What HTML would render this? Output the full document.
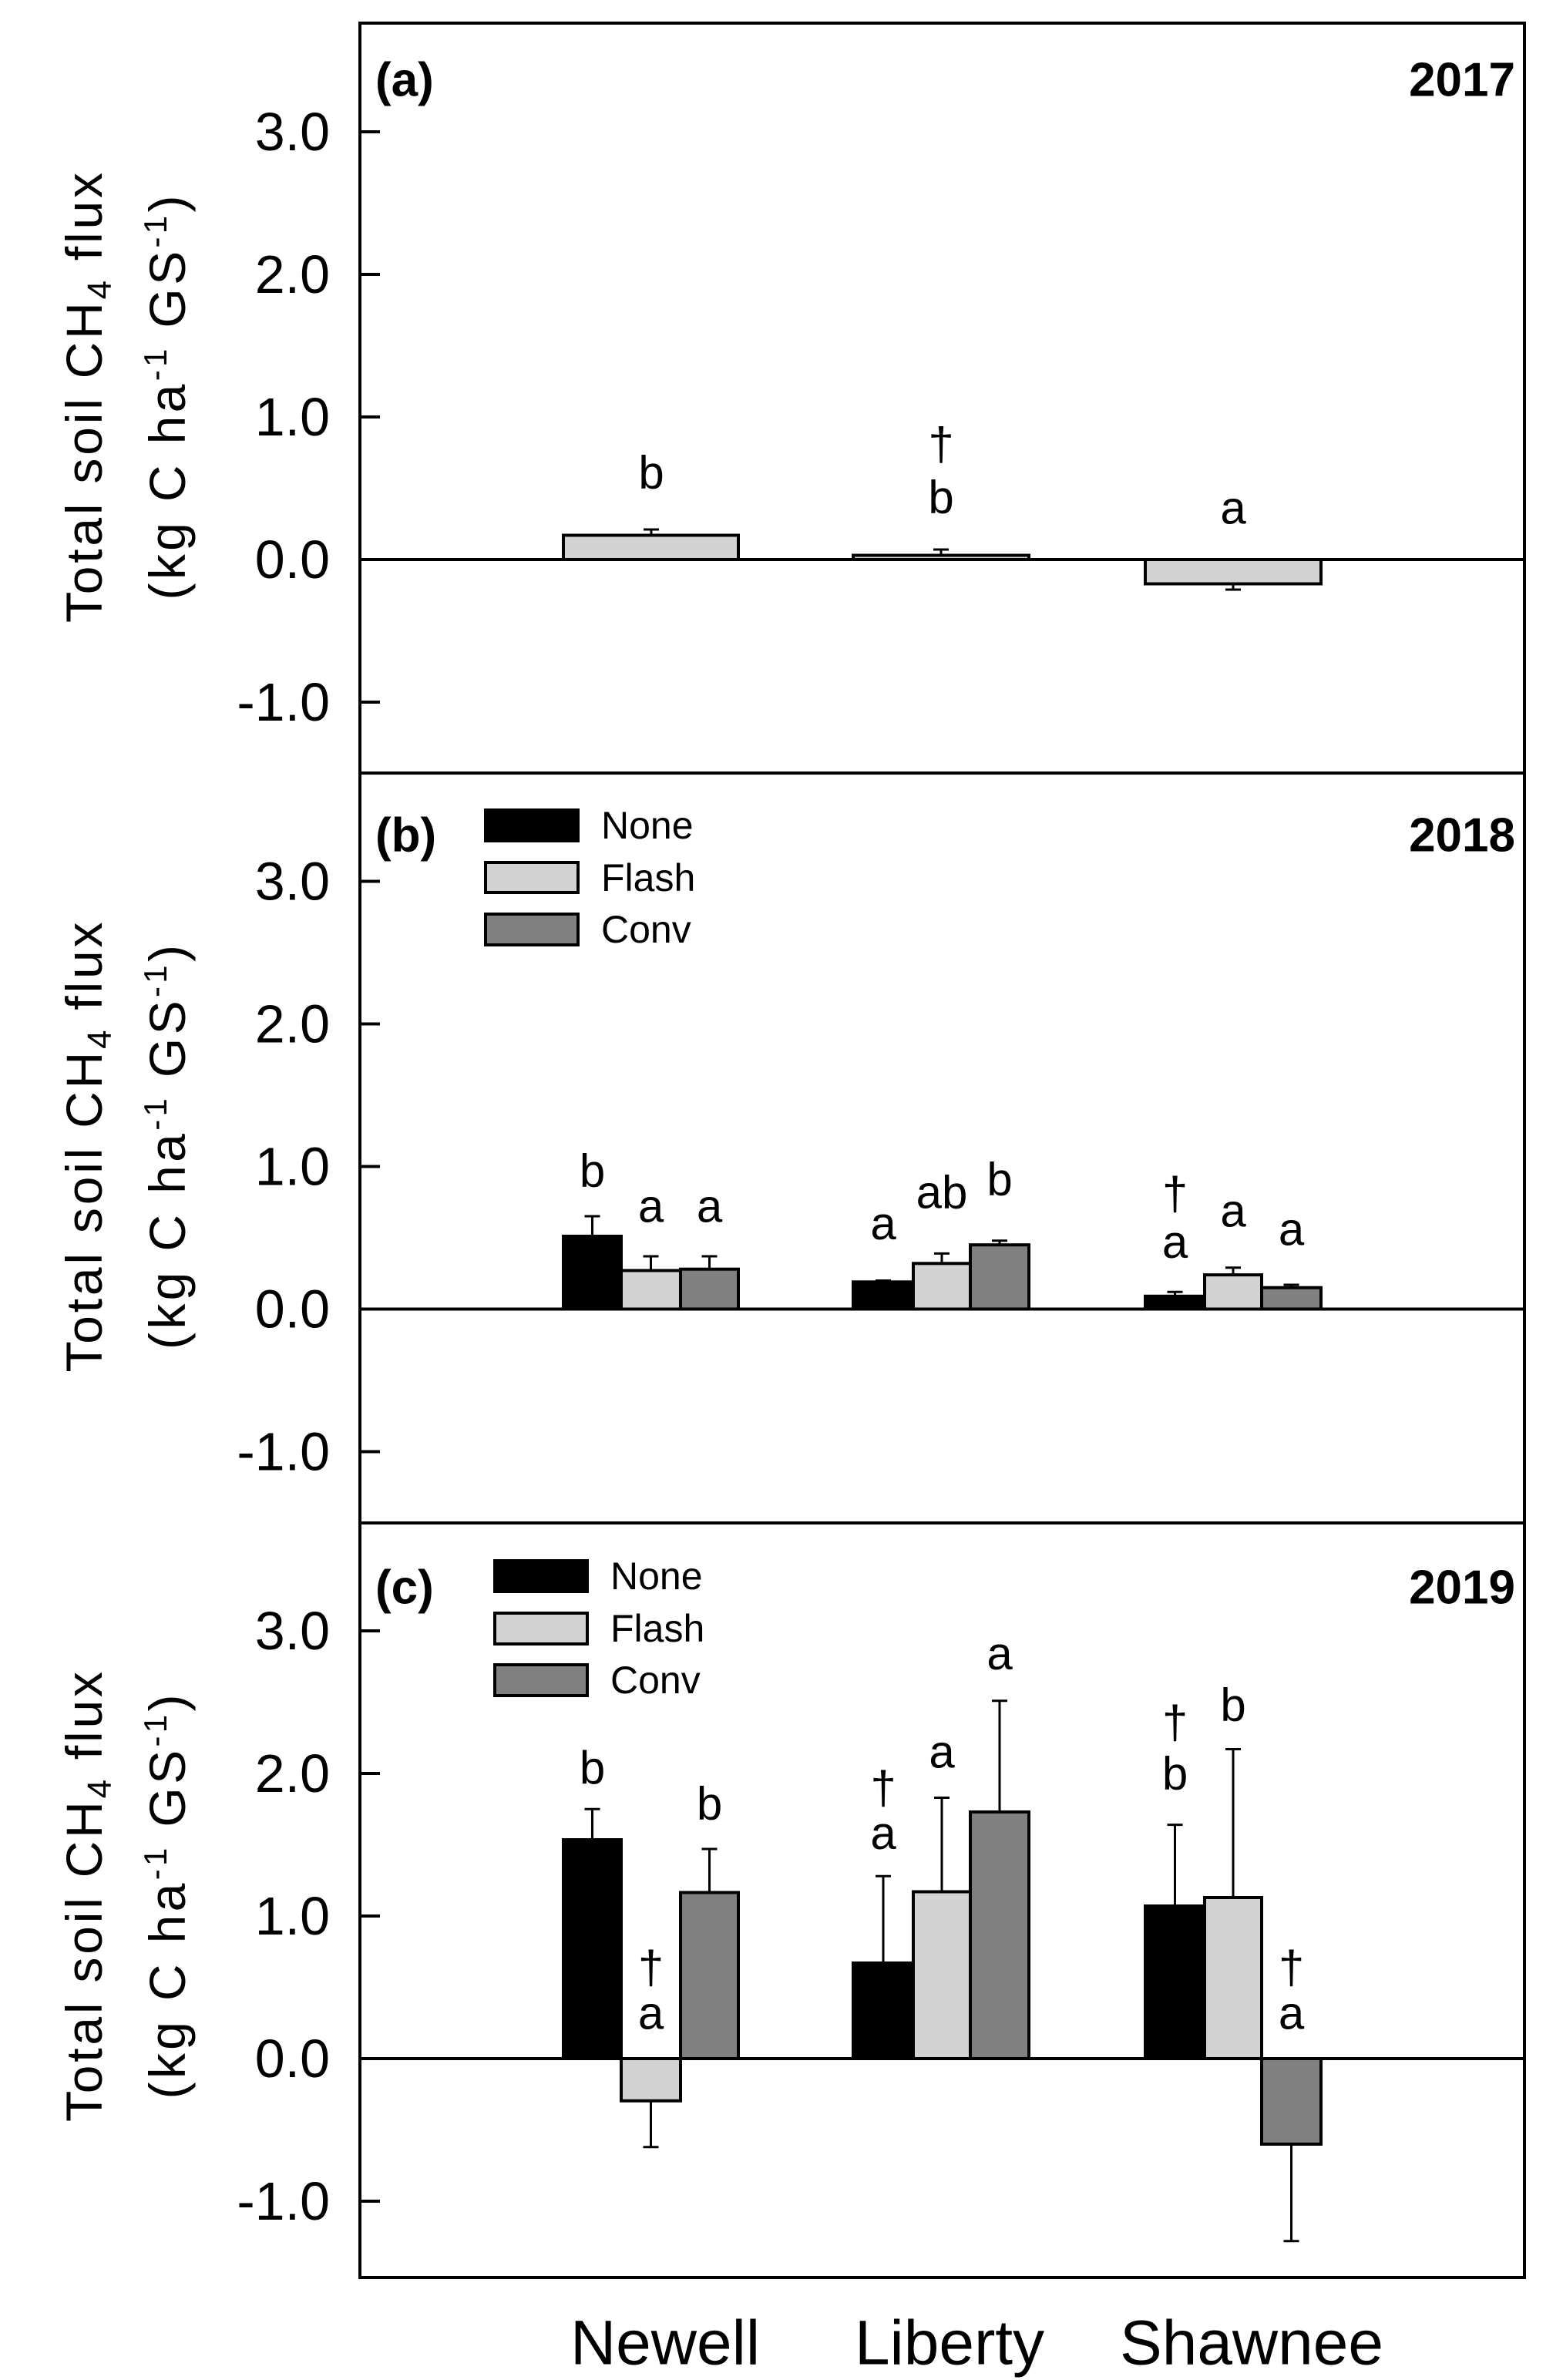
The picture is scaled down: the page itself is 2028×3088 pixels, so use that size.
<!DOCTYPE html>
<html><head><meta charset="utf-8"><style>html,body{margin:0;padding:0;background:#fff}svg{display:block}</style></head>
<body>
<svg xmlns="http://www.w3.org/2000/svg" width="2028" height="3088" viewBox="0 0 2028 3088" font-family="Liberation Sans, Arial, sans-serif">
<rect width="2028" height="3088" fill="#fff"/>
<g fill="none" stroke="#000" stroke-width="4">
<rect x="467" y="30" width="1511" height="2925"/>
<line x1="467" y1="1003" x2="1978" y2="1003"/>
<line x1="467" y1="1976" x2="1978" y2="1976"/>
<line x1="467" y1="726" x2="1978" y2="726"/>
<line x1="467" y1="1698.5" x2="1978" y2="1698.5"/>
<line x1="467" y1="2671" x2="1978" y2="2671"/>
</g>
<g stroke="#000" stroke-width="4">
<line x1="467" y1="171" x2="493" y2="171"/><line x1="467" y1="356" x2="493" y2="356"/><line x1="467" y1="541" x2="493" y2="541"/><line x1="467" y1="911" x2="493" y2="911"/>
<line x1="467" y1="1143.5" x2="493" y2="1143.5"/><line x1="467" y1="1328.5" x2="493" y2="1328.5"/><line x1="467" y1="1513.5" x2="493" y2="1513.5"/><line x1="467" y1="1883.5" x2="493" y2="1883.5"/>
<line x1="467" y1="2116" x2="493" y2="2116"/><line x1="467" y1="2301" x2="493" y2="2301"/><line x1="467" y1="2486" x2="493" y2="2486"/><line x1="467" y1="2856" x2="493" y2="2856"/>
</g>
<g font-size="70" text-anchor="end" dominant-baseline="central">
<text x="428" y="171">3.0</text><text x="428" y="356">2.0</text><text x="428" y="541">1.0</text><text x="428" y="726">0.0</text><text x="428" y="911">-1.0</text>
<text x="428" y="1143.5">3.0</text><text x="428" y="1328.5">2.0</text><text x="428" y="1513.5">1.0</text><text x="428" y="1698.5">0.0</text><text x="428" y="1883.5">-1.0</text>
<text x="428" y="2116">3.0</text><text x="428" y="2301">2.0</text><text x="428" y="2486">1.0</text><text x="428" y="2671">0.0</text><text x="428" y="2856">-1.0</text>
</g>
<g font-size="66" text-anchor="middle">
<text transform="translate(132,516) rotate(-90)" textLength="584" lengthAdjust="spacing">Total soil CH<tspan font-size="44" dy="12">4</tspan><tspan dy="-12"> flux</tspan></text>
<text transform="translate(240,516) rotate(-90)" textLength="525" lengthAdjust="spacing">(kg C ha<tspan font-size="42" dy="-24">-1</tspan><tspan dy="24"> GS</tspan><tspan font-size="42" dy="-24">-1</tspan><tspan dy="24">)</tspan></text>
<text transform="translate(132,1488.5) rotate(-90)" textLength="584" lengthAdjust="spacing">Total soil CH<tspan font-size="44" dy="12">4</tspan><tspan dy="-12"> flux</tspan></text>
<text transform="translate(240,1488.5) rotate(-90)" textLength="525" lengthAdjust="spacing">(kg C ha<tspan font-size="42" dy="-24">-1</tspan><tspan dy="24"> GS</tspan><tspan font-size="42" dy="-24">-1</tspan><tspan dy="24">)</tspan></text>
<text transform="translate(132,2461) rotate(-90)" textLength="584" lengthAdjust="spacing">Total soil CH<tspan font-size="44" dy="12">4</tspan><tspan dy="-12"> flux</tspan></text>
<text transform="translate(240,2461) rotate(-90)" textLength="525" lengthAdjust="spacing">(kg C ha<tspan font-size="42" dy="-24">-1</tspan><tspan dy="24"> GS</tspan><tspan font-size="42" dy="-24">-1</tspan><tspan dy="24">)</tspan></text>
</g>
<g font-size="62" font-weight="bold" dominant-baseline="central">
<text x="487" y="104">(a)</text><text x="1966" y="104" text-anchor="end">2017</text>
<text x="487" y="1084">(b)</text><text x="1966" y="1084" text-anchor="end">2018</text>
<text x="487" y="2060">(c)</text><text x="1966" y="2060" text-anchor="end">2019</text>
</g>
<g stroke="#000" stroke-width="4">
<rect x="630" y="1051" width="120" height="40" fill="#000"/>
<rect x="630" y="1119" width="120" height="39" fill="#d3d3d3"/>
<rect x="630" y="1186" width="120" height="40" fill="#808080"/>
<rect x="642" y="2025" width="120" height="40" fill="#000"/>
<rect x="642" y="2093" width="120" height="40" fill="#d3d3d3"/>
<rect x="642" y="2160" width="120" height="40" fill="#808080"/>
</g>
<g font-size="50" dominant-baseline="central">
<text x="780" y="1071">None</text><text x="780" y="1139">Flash</text><text x="780" y="1206">Conv</text>
<text x="792" y="2045">None</text><text x="792" y="2113">Flash</text><text x="792" y="2180">Conv</text>
</g>
<g stroke="#000" stroke-width="4">
<rect x="731" y="694.5" width="227" height="31.5" fill="#d3d3d3"/>
<rect x="1107" y="720.5" width="228" height="5.5" fill="#d3d3d3"/>
<rect x="1486" y="726" width="228" height="31.5" fill="#d3d3d3"/>
<rect x="731" y="1604" width="75" height="94.5" fill="#000"/>
<rect x="806" y="1648.5" width="77" height="50" fill="#d3d3d3"/>
<rect x="883" y="1646.7" width="75" height="51.8" fill="#808080"/>
<rect x="1107" y="1663.3" width="78" height="35.2" fill="#000"/>
<rect x="1185" y="1639.3" width="74" height="59.2" fill="#d3d3d3"/>
<rect x="1259" y="1615.2" width="76" height="83.3" fill="#808080"/>
<rect x="1486" y="1681.8" width="77" height="16.7" fill="#000"/>
<rect x="1563" y="1654.1" width="74" height="44.4" fill="#d3d3d3"/>
<rect x="1637" y="1670.7" width="77" height="27.8" fill="#808080"/>
<rect x="731" y="2387" width="75" height="284" fill="#000"/>
<rect x="806" y="2671" width="77" height="54.8" fill="#d3d3d3"/>
<rect x="883" y="2455.5" width="75" height="215.5" fill="#808080"/>
<rect x="1107" y="2547" width="78" height="124" fill="#000"/>
<rect x="1185" y="2454.5" width="74" height="216.5" fill="#d3d3d3"/>
<rect x="1259" y="2351" width="76" height="320" fill="#808080"/>
<rect x="1486" y="2473" width="77" height="198" fill="#000"/>
<rect x="1563" y="2462" width="74" height="209" fill="#d3d3d3"/>
<rect x="1637" y="2671" width="77" height="111" fill="#808080"/>
</g>
<g stroke="#000" stroke-width="3">
<path d="M845 694.5V687M835 687H855"/>
<path d="M1221 720.5V713M1211 713H1231"/>
<path d="M1600 757.5V765M1590 765H1610"/>
<path d="M768.5 1604V1578M758.5 1578H778.5"/>
<path d="M844.5 1648.5V1630M834.5 1630H854.5"/>
<path d="M920.5 1646.7V1630M910.5 1630H930.5"/>
<path d="M1146 1663.3V1661.5M1136 1661.5H1156"/>
<path d="M1222 1639.3V1626.4M1212 1626.4H1232"/>
<path d="M1297 1615.2V1609.7M1287 1609.7H1307"/>
<path d="M1524.5 1681.8V1676.3M1514.5 1676.3H1534.5"/>
<path d="M1600 1654.1V1644.8M1590 1644.8H1610"/>
<path d="M1675.5 1670.7V1667M1665.5 1667H1685.5"/>
<path d="M768.5 2387V2347.3M758.5 2347.3H778.5"/>
<path d="M844.5 2725.8V2785.7M834.5 2785.7H854.5"/>
<path d="M920.5 2455.5V2399M910.5 2399H930.5"/>
<path d="M1146 2547V2434.2M1136 2434.2H1156"/>
<path d="M1222 2454.5V2332.5M1212 2332.5H1232"/>
<path d="M1297 2351V2206.7M1287 2206.7H1307"/>
<path d="M1524.5 2473V2367.6M1514.5 2367.6H1534.5"/>
<path d="M1600 2462V2269.5M1590 2269.5H1610"/>
<path d="M1675.5 2782V2907.8M1665.5 2907.8H1685.5"/>
</g>
<g font-size="60" text-anchor="middle" dominant-baseline="central">
<text x="845" y="613">b</text><text x="1221" y="576">†</text><text x="1221" y="645">b</text><text x="1600" y="659">a</text>
<text x="768.5" y="1519">b</text><text x="844.5" y="1565">a</text><text x="920.5" y="1565">a</text>
<text x="1146" y="1587.5">a</text><text x="1222" y="1547">ab</text><text x="1297" y="1530">b</text>
<text x="1524.5" y="1548.6">†</text><text x="1524.5" y="1611.5">a</text><text x="1600" y="1571">a</text><text x="1675.5" y="1595">a</text>
<text x="768.5" y="2293.6">b</text><text x="844.5" y="2552.6">†</text><text x="844.5" y="2611.8">a</text><text x="920.5" y="2339.9">b</text>
<text x="1146" y="2319.5">†</text><text x="1146" y="2378.7">a</text><text x="1222" y="2273">a</text><text x="1297" y="2145.6">a</text>
<text x="1524.5" y="2234.4">†</text><text x="1524.5" y="2301">b</text><text x="1600" y="2212">b</text>
<text x="1675.5" y="2552.6">†</text><text x="1675.5" y="2611.8">a</text>
</g>
<g font-size="82" text-anchor="middle" dominant-baseline="central">
<text x="863" y="3040">Newell</text><text x="1232" y="3040">Liberty</text><text x="1624" y="3040">Shawnee</text>
</g>
</svg>
</body></html>
